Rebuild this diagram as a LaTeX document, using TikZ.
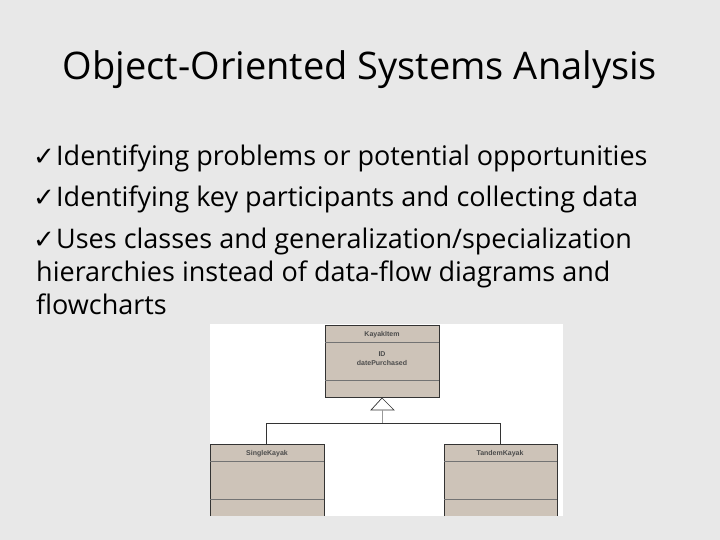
\documentclass[tikz,border=0pt]{standalone}
\usepackage{fontspec}
\setmainfont{DejaVu Sans}
\newfontfamily\bodyf{Open Sans}
\newfontfamily\chkf{DejaVu Sans}
\newfontfamily\umlf{Liberation Sans}
\definecolor{bg}{HTML}{E8E8E8}
\definecolor{tan}{HTML}{CDC3B8}
\begin{document}
\begin{tikzpicture}[x=1pt,y=-1pt,
  cls/.style={draw=black!80,fill=tan,line width=0.8pt},
  sep/.style={draw=black!55,line width=0.5pt},
  conn/.style={draw=black!80,line width=0.7pt},
  bul/.style={anchor=base west,inner sep=0pt,font=\bodyf\fontsize{27}{30}\selectfont},
  chk/.style={anchor=base west,inner sep=0pt,font=\chkf\fontsize{26}{28}\selectfont},
  lab/.style={font=\umlf\bfseries\fontsize{7}{8}\selectfont,text=black!70,inner sep=0pt}]
\fill[bg] (0,0) rectangle (720,540);
\useasboundingbox (0,0) rectangle (720,540);
\node[font=\bodyf\fontsize{38}{44}\selectfont,inner sep=0pt] (title) at (360,70) {Object-Oriented Systems Analysis};
\node[chk] (c1) at (33,166) {✓};
\node[bul] (l1) at (56,166) {Identifying problems or potential opportunities};
\node[chk] (c2) at (33,207) {✓};
\node[bul] (l2) at (56,207) {Identifying key participants and collecting data};
\node[chk] (c3) at (33,248) {✓};
\node[bul] (l3) at (56,248) {Uses classes and generalization/specialization};
\node[bul] (l4) at (36,281) {hierarchies instead of data-flow diagrams and};
\node[bul] (l5) at (36,314) {flowcharts};
% panel
\fill[white] (210,324) rectangle (563,516);
% KayakItem
\draw[cls] (325,325) rectangle (439,397);
\draw[sep] (325,342) -- (439,342);
\draw[sep] (325,380) -- (439,380);
\node[lab] (k) at (382,335) {KayakItem};
\node[lab] (kid) at (382,354) {ID};
\node[lab] (kdp) at (382,363) {datePurchased};
% SingleKayak
\fill[tan] (210,444) rectangle (324,516);
\draw[cls,fill=none] (210,516) -- (210,444) -- (324,444) -- (324,516);
\draw[sep] (210,461) -- (324,461);
\draw[sep] (210,499) -- (324,499);
\node[lab] (s) at (267,454) {SingleKayak};
% TandemKayak
\fill[tan] (444,444) rectangle (557,516);
\draw[cls,fill=none] (444,516) -- (444,444) -- (557,444) -- (557,516);
\draw[sep] (444,461) -- (557,461);
\draw[sep] (444,499) -- (557,499);
\node[lab] (t) at (500,454) {TandemKayak};
% generalization
\coordinate (apex) at (382,398);
\coordinate (j) at (382,423);
\draw[conn,fill=white] (apex) -- (371,410) -- (394,410) -- cycle;
\draw[draw=black!40,line width=0.6pt] (382,410) -- (j);
\draw[conn] (266,444) -- (266,423) -- (500,423) -- (500,444);
\end{tikzpicture}
\end{document}
